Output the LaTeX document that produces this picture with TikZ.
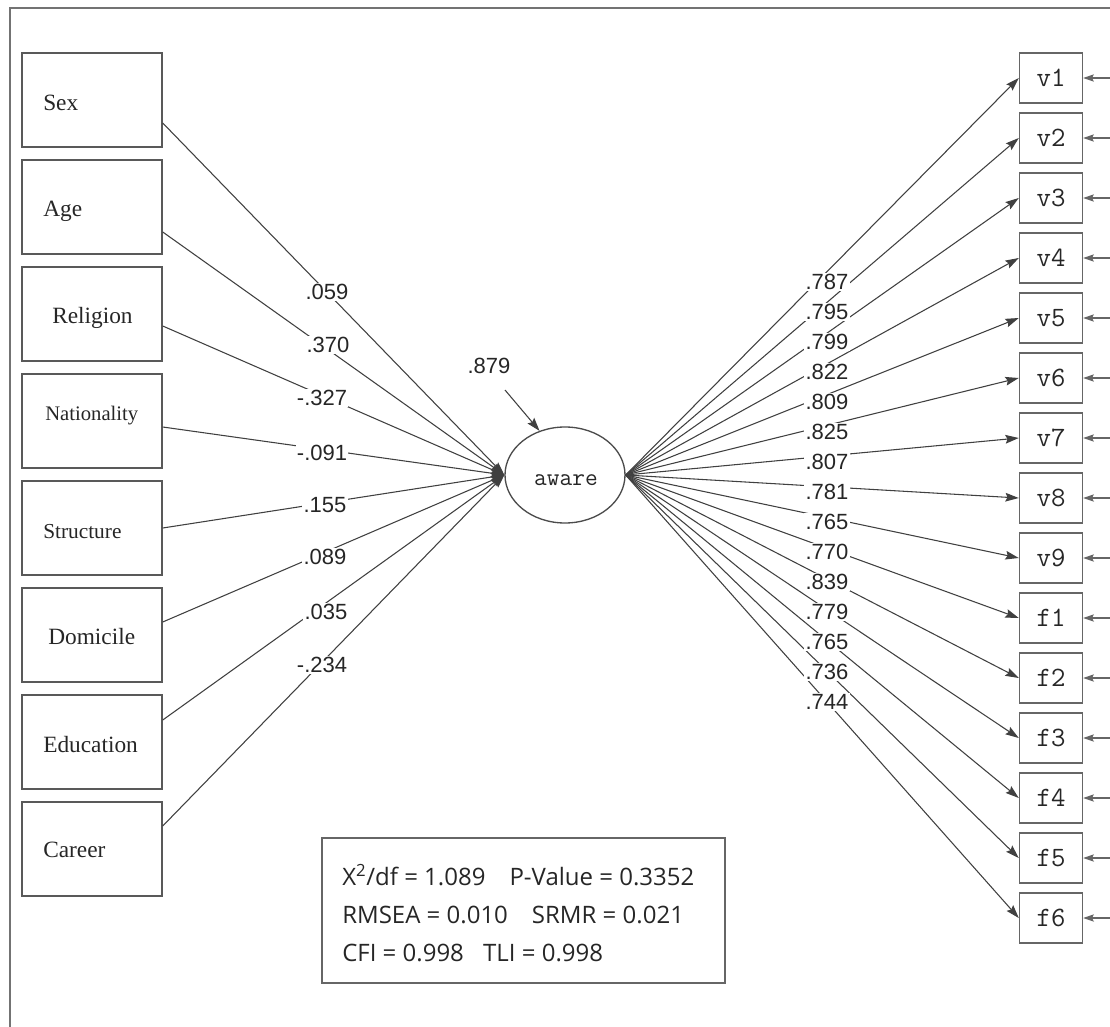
\documentclass[tikz,border=0pt]{standalone}
\usepackage{fontspec}
\setmainfont{Liberation Serif}
\newfontfamily\coeffont{Liberation Sans}
\newfontfamily\fitfont{Open Sans}
\usetikzlibrary{arrows.meta,shapes.geometric}

\begin{document}
\begin{tikzpicture}[x=0.75pt,y=-0.75pt,
  lbox/.style={draw=black!65,line width=1.1pt,minimum width=105pt,minimum height=70.5pt,inner sep=0},
  ltext/.style={anchor=west,inner sep=0,font=\fontsize{17.5}{20}\selectfont,text=black!85},
  rbox/.style={draw=black!60,line width=1.1pt,minimum width=47.25pt,minimum height=37.5pt,inner sep=0,font=\ttfamily\fontsize{21}{24}\selectfont,text=black!85},
  conn/.style={draw=black!75,line width=0.8pt,-{Stealth[length=10pt,width=6.5pt,inset=1.5pt]}},
  err/.style={draw=black!60,line width=0.8pt,-{Stealth[length=8pt,width=5.5pt,inset=1.5pt]}},
  coef/.style={fill=white,inner sep=1pt,font=\coeffont\fontsize{16.5}{18}\selectfont,text=black!85},
]
\useasboundingbox (0,0) rectangle (1110,1027);
% frame
\draw[black!55,line width=0.9pt] (10,1027) -- (10,8) -- (1110,8);

% left boxes
\foreach \n/\y in {sex/100,age/207,rel/314,nat/421,str/528,dom/635,edu/742,car/849}
  \node[lbox] (\n) at (92,\y) {};
\node[ltext] (sexT) at (43,103) {Sex};
\node[ltext] (ageT) at (43,211) {Age};
\node[ltext] (relT) at (52,318) {Religion};
\node[ltext,font=\fontsize{15.5}{18}\selectfont] (natT) at (45,416) {Nationality};
\node[ltext,font=\fontsize{16}{18}\selectfont] (strT) at (43,532) {Structure};
\node[ltext] (domT) at (48,637) {Domicile};
\node[ltext] (eduT) at (43,745) {Education};
\node[ltext] (carT) at (43,850) {Career};

% latent
\node[draw=black!70,line width=1pt,ellipse,minimum width=90pt,minimum height=72pt,inner sep=0] (aware) at (565,475) {};
\node[font=\ttfamily\fontsize{18.5}{20}\selectfont,text=black!85,inner sep=0] (awareT) at (566,480) {aware};

% right boxes
\foreach \n [count=\i from 0] in {v1,v2,v3,v4,v5,v6,v7,v8,v9,f1,f2,f3,f4,f5,f6}
  \node[rbox] (\n) at (1051,{78+60*\i}) {\n};

% error arrows
\foreach \n [count=\i from 0] in {v1,v2,v3,v4,v5,v6,v7,v8,v9,f1,f2,f3,f4,f5,f6} {
  \coordinate (e\n) at (1110,{78+60*\i});
  \draw[err] (e\n) -- (\n.east);
}

% connectors left
\foreach \n/\s in {sex/-17.25,age/-18.75,rel/-9,nat/-4.5,str/0,dom/9.75,edu/16.5,car/17.25}
  \draw[conn] ([yshift=\s pt]\n.east) -- (aware.west);

% connectors right
\foreach \n in {v1,v2,v3,v4,v5,v6,v7,v8,v9,f1,f2,f3,f4,f5,f6}
  \draw[conn] (aware.east) -- (\n.west);

% disturbance
\coordinate (dstart) at (505,390);
\draw[conn] (dstart) -- (aware.120);
\node[coef,fill=none] (d879) at (489,366) {.879};

% left coefficients
\node[coef] (c1) at (327,292) {.059};
\node[coef] (c2) at (328,345) {.370};
\node[coef] (c3) at (322,398) {-.327};
\node[coef] (c4) at (322,453) {-.091};
\node[coef] (c5) at (325,505) {.155};
\node[coef] (c6) at (325,557) {.089};
\node[coef] (c7) at (326,612) {.035};
\node[coef] (c8) at (322,665) {-.234};

% right coefficients
\foreach \v [count=\i from 0] in {787,795,799,822,809,825,807,781,765,770,839,779,765,736,744}
  \node[coef] (r\i) at (827,{282+30*\i}) {.\v};

% fit box
\node[draw=black!60,line width=1.1pt,minimum width=302.25pt,minimum height=108.75pt,inner sep=0] (fitbox) at (523.5,910.5) {};
\node[anchor=west,align=left,inner sep=0,text=black!85,font=\fitfont\fontsize{18}{28.5}\selectfont] (fittext) at (342,913)
  {X\textsuperscript{2}/df = 1.089\hspace{1em}P-Value = 0.3352\\
   RMSEA = 0.010\hspace{1em}SRMR = 0.021\\
   CFI = 0.998\hspace{0.8em}TLI = 0.998};
\end{tikzpicture}
\end{document}
